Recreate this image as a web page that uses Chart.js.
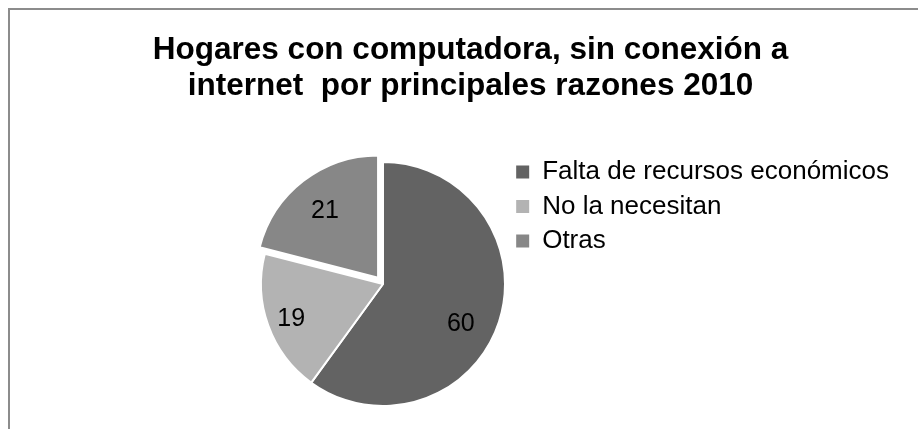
<!DOCTYPE html>
<html>
<head>
<meta charset="utf-8">
<script src="https://cdn.jsdelivr.net/npm/chart.js@4/dist/chart.umd.min.js"></script>
<style>
  html, body { margin: 0; padding: 0; background: #ffffff; }
  #wrap { position: relative; width: 918px; height: 429px; overflow: hidden; background: #ffffff; }
  #frame { position: absolute; left: 8px; top: 8px; width: 1000px; height: 600px; border: 2px solid #8c8c8c; box-sizing: border-box; }
  #c { position: absolute; left: 0; top: 0; }
</style>
</head>
<body>
<div id="wrap">
  <div id="frame"></div>
  <canvas id="c" width="918" height="429"></canvas>
</div>
<script>
const titleLines = ['Hogares con computadora, sin conexión a', 'internet  por principales razones 2010'];
const categories = ['Falta de recursos económicos', 'No la necesitan', 'Otras'];
const values = [60, 19, 21];
const sliceColors = ['#636363', '#b3b3b3', '#878787'];
const sliceOffsets = [0, 0, 32];            // Chart.js moves a slice by offset/4
const labelRadiusFactor = [0.71, 0.8, 0.71];
const labelAngleShiftDeg = [8, 0, 0];

const FONT = "'Liberation Sans', Arial, sans-serif";
const TARGET_CX = 383, TARGET_CY = 284;

const labelPlugin = {
  id: 'sliceLabels',
  afterDatasetsDraw(chart) {
    const ctx = chart.ctx;
    const meta = chart.getDatasetMeta(0);
    ctx.save();
    ctx.font = '25px ' + FONT;
    ctx.fillStyle = '#000000';
    ctx.textAlign = 'center';
    ctx.textBaseline = 'middle';
    meta.data.forEach((arc, i) => {
      const p = arc.getProps(['x', 'y', 'startAngle', 'endAngle', 'outerRadius'], true);
      const half = (p.startAngle + p.endAngle) / 2;
      const shift = ((arc.options && arc.options.offset) || 0) / 4;
      const cx = p.x + Math.cos(half) * shift;
      const cy = p.y + Math.sin(half) * shift;
      const mid = half + labelAngleShiftDeg[i] * Math.PI / 180;
      const r = p.outerRadius * labelRadiusFactor[i];
      ctx.fillText(String(chart.data.datasets[0].data[i]), cx + Math.cos(mid) * r, cy + Math.sin(mid) * r + 2);
    });
    ctx.restore();
  }
};

const defaultLabels = Chart.overrides.pie.plugins.legend.labels.generateLabels;

const chart = new Chart(document.getElementById('c'), {
  type: 'pie',
  data: {
    labels: categories,
    datasets: [{
      data: values,
      backgroundColor: sliceColors,
      borderColor: '#ffffff',
      borderWidth: 2,
      offset: sliceOffsets
    }]
  },
  options: {
    responsive: false,
    animation: false,
    devicePixelRatio: 1,
    radius: 122,
    layout: { padding: { left: 42, right: 19, top: 0, bottom: 9 } },
    events: [],
    plugins: {
      title: {
        display: true,
        text: titleLines,
        color: '#000000',
        font: { family: FONT, size: 31.5, weight: 'bold', lineHeight: 1.12 },
        padding: { top: 33, bottom: 47 }
      },
      subtitle: {
        display: true,
        text: ' ',
        position: 'left',
        fullSize: false,
        font: { size: 1 },
        padding: { top: 200, bottom: 0 }
      },
      legend: {
        display: true,
        position: 'right',
        align: 'start',
        fullSize: false,
        maxWidth: 600,
        labels: {
          boxWidth: 13,
          boxHeight: 13,
          padding: 8.5,
          color: '#000000',
          font: { family: FONT, size: 26 },
          generateLabels(ch) {
            return defaultLabels(ch).map(l => Object.assign(l, { lineWidth: 0, strokeStyle: 'rgba(0,0,0,0)' }));
          }
        }
      },
      tooltip: { enabled: false }
    }
  },
  plugins: [labelPlugin]
});

for (let k = 0; k < 3; k++) {
  const ca = chart.chartArea;
  const cx = (ca.left + ca.right) / 2;
  const cy = (ca.top + ca.bottom) / 2;
  chart.options.plugins.subtitle.padding.top += 2 * (TARGET_CX - cx);
  chart.options.layout.padding.bottom -= 2 * (TARGET_CY - cy);
  chart.update();
}
</script>
</body>
</html>
